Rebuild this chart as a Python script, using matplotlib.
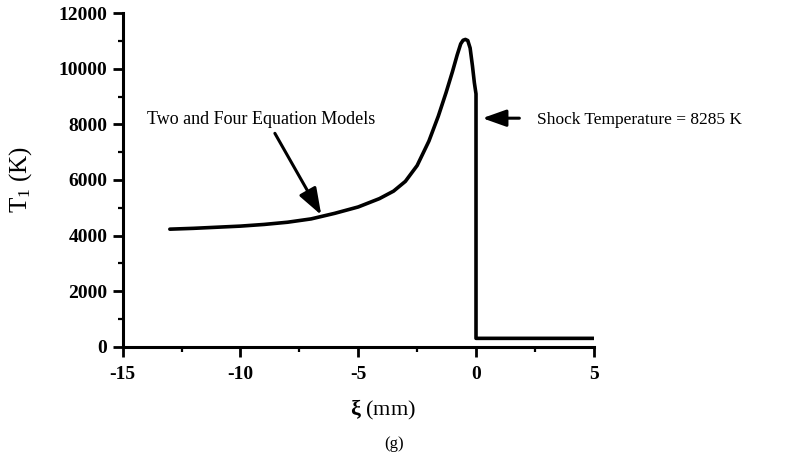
import matplotlib
matplotlib.use("Agg")
import matplotlib.pyplot as plt
from matplotlib.ticker import MultipleLocator

# Data
xi_mm = [-13.0, -12.0, -11.0, -10.0, -9.0, -8.0, -7.0, -6.6, -6.0, -5.0, -4.1,
         -3.5, -3.0, -2.5, -2.0, -1.6, -1.27, -1.0, -0.8, -0.65, -0.55, -0.45,
         -0.35, -0.25, -0.15, -0.07, 0.0, 0.0, 5.0]
T1_K = [4230, 4260, 4300, 4340, 4400, 4480, 4600, 4680, 4800, 5030, 5330,
        5600, 5950, 6520, 7400, 8300, 9150, 9900, 10500, 10900, 11030, 11060,
        11020, 10750, 10100, 9500, 9100, 300, 300]

x_ticks = [-15, -10, -5, 0, 5]
y_ticks = [0, 2000, 4000, 6000, 8000, 10000, 12000]

shock_T = 8285

plt.rcParams['font.family'] = ['Liberation Serif', 'DejaVu Serif']
plt.rcParams['axes.unicode_minus'] = False
plt.rcParams['mathtext.fontset'] = 'custom'
plt.rcParams['mathtext.rm'] = 'Liberation Serif'
plt.rcParams['mathtext.it'] = 'Liberation Serif:italic'
plt.rcParams['mathtext.bf'] = 'Liberation Serif:bold'

fig = plt.figure(figsize=(7.97, 4.59), dpi=100)
ax = fig.add_axes([0.154, 0.2447, 0.591, 0.7263])

ax.plot(xi_mm, T1_K, color='black', lw=2.6, solid_joinstyle='round',
        solid_capstyle='round')

ax.set_xlim(-15, 5)
ax.set_ylim(0, 12000)
ax.set_xticks(x_ticks)
ax.set_yticks(y_ticks)
ax.xaxis.set_minor_locator(MultipleLocator(2.5))
ax.yaxis.set_minor_locator(MultipleLocator(1000))
for s in ['top', 'right']:
    ax.spines[s].set_visible(False)
for s in ['left', 'bottom']:
    ax.spines[s].set_linewidth(2.2)
ax.tick_params(which='major', direction='out', length=7, width=2, labelsize=14, pad=4)
ax.tick_params(axis='x', which='major', pad=7)
ax.tick_params(which='minor', direction='out', length=3.5, width=1.6)
for lab in ax.get_xticklabels() + ax.get_yticklabels():
    lab.set_fontweight('bold')

ax.set_ylabel(r'T$_1$ (K)', fontsize=18, labelpad=18)

fig.text(383 / 797, 1 - 410 / 459, r'$\mathbf{\xi}$ (mm)', fontsize=16,
         ha='center', va='center')
fig.text(394 / 797, 1 - 444 / 459, '(g)', fontsize=12, ha='center', va='center')

arrow_kw = dict(arrowstyle='-|>,head_length=0.9,head_width=0.32',
                color='black', lw=2.2, shrinkA=0, shrinkB=0, mutation_scale=18)

ax.text(-9.12, 8160, 'Two and Four Equation Models', fontsize=13,
        ha='center', va='center')
ax.annotate('', xy=(-6.57, 4740), xytext=(-8.54, 7680), arrowprops=arrow_kw)

ax.text(2.6, 8150, 'Shock Temperature = 8285 K', fontsize=12.5,
        ha='left', va='center')
ax.annotate('', xy=(0.27, shock_T - 60), xytext=(1.84, shock_T - 60),
            arrowprops=dict(arrow_kw, mutation_scale=16))

fig.savefig('out.png', dpi=100)
